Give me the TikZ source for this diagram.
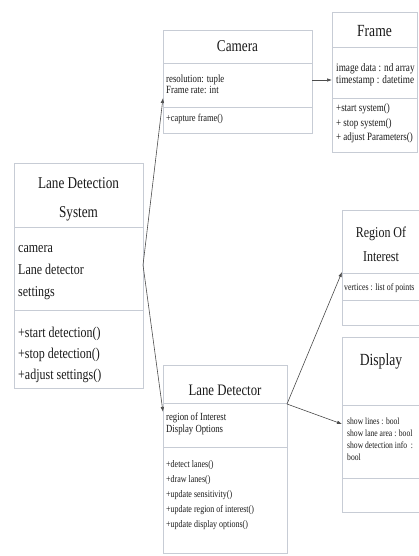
\documentclass[tikz,border=0pt]{standalone}
\usepackage{fontspec}
\setmainfont{Liberation Serif}[FakeStretch=0.8]
\usetikzlibrary{arrows.meta}
\definecolor{boxc}{HTML}{C7CCD5}
\definecolor{inkc}{HTML}{1A1A1A}
\newcommand\myfs[1]{\fontsize{#1}{#1}\selectfont}
\tikzset{
  umlbox/.style={draw=boxc, line width=0.9pt, fill=white, inner sep=0pt, outer sep=0pt},
  divider/.style={draw=boxc, line width=0.9pt},
  txt/.style={inner sep=0pt, anchor=base west, text=inkc},
  ttl/.style={inner sep=0pt, anchor=base, text=inkc},
  conn/.style={draw=black!70, line width=0.6pt, -{Latex[length=5pt,width=3.5pt]}},
}
\begin{document}
\begin{tikzpicture}[x=1pt,y=-1pt]
\clip (0,0) rectangle (419,556);
\fill[white] (0,0) rectangle (419,556);

% Lane Detection System
\node[umlbox, minimum width=129pt, minimum height=225pt] (lds) at (78.5,275.5) {};
\draw[divider] (lds.west |- 0,227) -- (lds.east |- 0,227);
\draw[divider] (lds.west |- 0,310) -- (lds.east |- 0,310);
\node[ttl, font=\myfs{16.5}] (ldsT1) at (78.5,188) {Lane Detection};
\node[ttl, font=\myfs{16.5}] (ldsT2) at (78.5,217) {System};
\node[txt, font=\myfs{15}] (ldsA1) at (18,252) {camera};
\node[txt, font=\myfs{15}] (ldsA2) at (18,274) {Lane detector};
\node[txt, font=\myfs{15}] (ldsA3) at (18,296) {settings};
\node[txt, font=\myfs{15}] (ldsM1) at (18,337.5) {+start detection()};
\node[txt, font=\myfs{15}] (ldsM2) at (18,358.5) {+stop detection()};
\node[txt, font=\myfs{15}] (ldsM3) at (18,379.5) {+adjust settings()};

% Camera
\node[umlbox, minimum width=149pt, minimum height=103pt] (cam) at (237.5,81.5) {};
\draw[divider] (cam.west |- 0,63) -- (cam.east |- 0,63);
\draw[divider] (cam.west |- 0,107) -- (cam.east |- 0,107);
\node[ttl, font=\myfs{16.5}] (camT) at (237.5,52) {Camera};
\node[txt, font=\myfs{11}] (camA1) at (166,82.5) {resolution: tuple};
\node[txt, font=\myfs{11}] (camA2) at (166,93.5) {Frame rate: int};
\node[txt, font=\myfs{10.5}] (camM1) at (166,121.5) {+capture frame()};

% Frame
\node[umlbox, minimum width=85pt, minimum height=140pt] (frm) at (374.5,82) {};
\draw[divider] (frm.west |- 0,47) -- (frm.east |- 0,47);
\draw[divider] (frm.west |- 0,98) -- (frm.east |- 0,98);
\node[ttl, font=\myfs{17}] (frmT) at (374.5,37) {Frame};
\node[txt, font=\myfs{11.5}] (frmA1) at (336,71.5) {image data : nd array};
\node[txt, font=\myfs{11.5}] (frmA2) at (336,83.5) {timestamp : datetime};
\node[txt, font=\myfs{11.2}] (frmM1) at (336,111.5) {+start system()};
\node[txt, font=\myfs{11.2}] (frmM2) at (336,126.5) {+ stop system()};
\node[txt, font=\myfs{11.2}] (frmM3) at (336,140.5) {+ adjust Parameters()};

% Region Of Interest
\node[umlbox, minimum width=88pt, minimum height=115pt] (roi) at (386,267.5) {};
\draw[divider] (roi.west |- 0,273) -- (roi.east |- 0,273);
\draw[divider] (roi.west |- 0,300) -- (roi.east |- 0,300);
\node[ttl, font=\myfs{15}] (roiT1) at (381,237.5) {Region Of};
\node[ttl, font=\myfs{15}] (roiT2) at (381,261.5) {Interest};
\node[txt, font=\myfs{9.8}] (roiA1) at (344,290) {vertices : list of points};

% Display
\node[umlbox, minimum width=88pt, minimum height=175pt] (dsp) at (386,424.5) {};
\draw[divider] (dsp.west |- 0,405) -- (dsp.east |- 0,405);
\draw[divider] (dsp.west |- 0,478) -- (dsp.east |- 0,478);
\node[ttl, font=\myfs{17}] (dspT) at (381,365) {Display};
\node[txt, font=\myfs{9.5}] (dspA1) at (347,424) {show lines : bool};
\node[txt, font=\myfs{9.5}] (dspA2) at (347,436) {show lane area : bool};
\node[txt, font=\myfs{9.5}] (dspA3) at (347,448) {show detection info\ \ :};
\node[txt, font=\myfs{9.5}] (dspA4) at (347,460) {bool};

% Lane Detector
\node[umlbox, minimum width=124pt, minimum height=188pt] (ld) at (225,459) {};
\draw[divider] (ld.west |- 0,403) -- (ld.east |- 0,403);
\draw[divider] (ld.west |- 0,447) -- (ld.east |- 0,447);
\node[ttl, font=\myfs{16}] (ldT) at (225,395) {Lane Detector};
\node[txt, font=\myfs{10.9}] (ldA1) at (166,420.5) {region of Interest};
\node[txt, font=\myfs{10.9}] (ldA2) at (166,432.5) {Display Options};
\node[txt, font=\myfs{10}] (ldM1) at (166,467) {+detect lanes()};
\node[txt, font=\myfs{10}] (ldM2) at (166,482) {+draw lanes()};
\node[txt, font=\myfs{10}] (ldM3) at (166,497) {+update sensitivity()};
\node[txt, font=\myfs{10}] (ldM4) at (166,512) {+update region of interest()};
\node[txt, font=\myfs{10}] (ldM5) at (166,527) {+update display options()};

% connection points
\coordinate (hub) at (lds.east |- 0,265);
\coordinate (camIn) at (cam.west |- 0,98);
\coordinate (ldIn) at (ld.west |- 0,412);
\coordinate (ldOut) at (ld.east |- 0,404);
\coordinate (roiIn) at (roi.west |- 0,272);
\coordinate (dspIn) at (dsp.west |- 0,424);
\coordinate (camOut) at (cam.east |- 0,80);
\coordinate (frmIn) at (frm.west |- 0,80);

\draw[conn] (hub) -- (camIn);
\draw[conn] (hub) -- (ldIn);
\draw[conn] (ldOut) -- (roiIn);
\draw[conn] (ldOut) -- (dspIn);
\draw[conn] (camOut) -- (frmIn);
\end{tikzpicture}
\end{document}
